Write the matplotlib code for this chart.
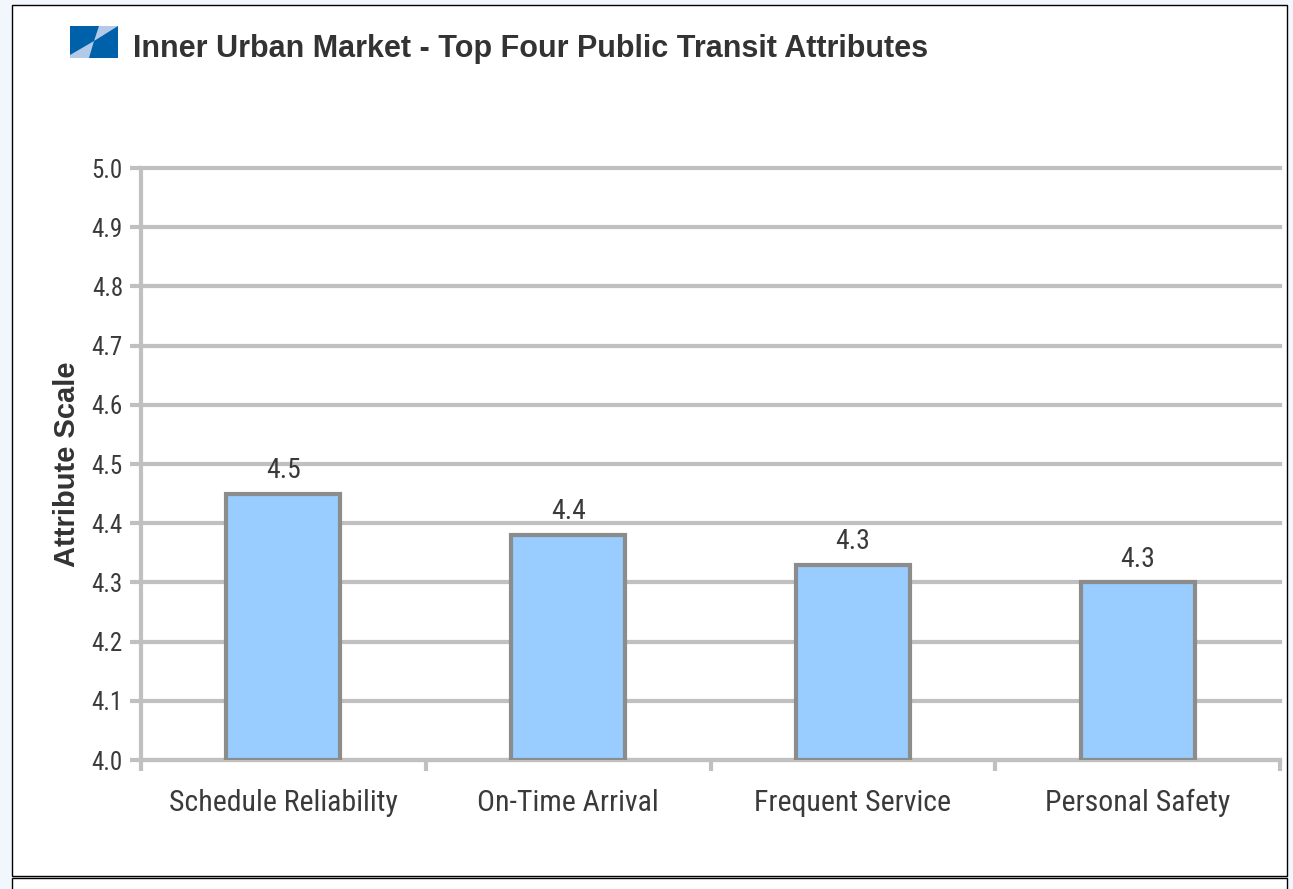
import numpy as np
import matplotlib.pyplot as plt
from matplotlib.patches import Rectangle, Polygon

# chart data
categories = ['Schedule Reliability', 'On-Time Arrival', 'Frequent Service', 'Personal Safety']
scores = [4.45, 4.38, 4.33, 4.30]
labels = ['4.5', '4.4', '4.3', '4.3']
y_ticks = [4.0, 4.1, 4.2, 4.3, 4.4, 4.5, 4.6, 4.7, 4.8, 4.9, 5.0]

W, H = 1293, 889
narrow = ['Liberation Sans Narrow', 'Roboto Condensed', 'Roboto', 'DejaVu Sans']
grid_col = '#c0c0c0'
text_col = '#3a3a3a'

fig = plt.figure(figsize=(W / 100, H / 100), dpi=100)
fig.patch.set_facecolor('#f2f6fd')

# white panel with black frame, plus the start of the next panel below
def px_rect(x0, y0, x1, y1, **kw):
    return Rectangle((x0 / W, 1 - y1 / H), (x1 - x0) / W, (y1 - y0) / H,
                     transform=fig.transFigure, **kw)

fig.patches.append(px_rect(12, 5, 1287, 876, facecolor='white', edgecolor='black',
                           linewidth=1.0, zorder=-5))
fig.patches.append(px_rect(12, 878, 1287, 900, facecolor='white', edgecolor='black',
                           linewidth=1.0, zorder=-5))

# small logo next to title
def px_poly(pts, **kw):
    return Polygon([(x / W, 1 - y / H) for x, y in pts], closed=True,
                   transform=fig.transFigure, **kw)

fig.patches.append(px_rect(70, 26, 118, 58, facecolor='#0061ab', edgecolor='none'))
fig.patches.append(px_poly([(99, 26), (118, 26), (94, 41)], facecolor='#b3c9e8', edgecolor='none'))
fig.patches.append(px_poly([(70, 55), (70, 58), (89, 58), (94, 41)], facecolor='#b3c9e8', edgecolor='none'))

fig.text(133 / W, 1 - 49 / H, 'Inner Urban Market - Top Four Public Transit Attributes',
         fontsize=22, fontweight='bold', color='#333333', family='Liberation Sans',
         va='center', ha='left')

ax = fig.add_axes([141 / W, 1 - 760 / H, (1280 - 141) / W, (760 - 168) / H])
ax.set_facecolor('white')

x = np.arange(len(categories))
ax.bar(x, [s - 4.0 for s in scores], bottom=4.0, width=0.4, color='#99ccff',
       edgecolor='#8c8c8c', linewidth=3, zorder=3)

for xi, s, lab in zip(x, scores, labels):
    ax.annotate(lab, (xi, s), xytext=(0, 7), textcoords='offset points',
                ha='center', va='bottom', fontsize=20, color=text_col, family=narrow)

ax.set_xlim(-0.5, 3.5)
ax.set_ylim(4.0, 5.0)
ax.set_yticks(y_ticks)
ax.set_yticklabels([f'{t:.1f}' for t in y_ticks], fontsize=18, color=text_col, family=narrow)
ax.yaxis.grid(True, color=grid_col, linewidth=3, zorder=0)
for gl in ax.get_ygridlines():
    gl.set_clip_on(False)
ax.set_axisbelow(True)

ax.set_xticks(np.arange(-0.5, 4.0, 1.0))
ax.set_xticklabels([])
ax.set_xticks(x, minor=True)
ax.set_xticklabels(categories, minor=True, fontsize=21.5, color=text_col, family=narrow)
ax.tick_params(axis='x', which='minor', length=0, pad=21)
ax.tick_params(axis='x', which='major', length=8, width=3, color=grid_col)
ax.tick_params(axis='y', length=8, width=3, color=grid_col, pad=5)

for side in ['top', 'right']:
    ax.spines[side].set_visible(False)
for side in ['left', 'bottom']:
    ax.spines[side].set_color(grid_col)
    ax.spines[side].set_linewidth(3)

ax.set_ylabel('Attribute Scale', fontsize=21, fontweight='bold', color='#333333',
              family='Liberation Sans', labelpad=8)

fig.savefig('out.png', dpi=100, facecolor=fig.get_facecolor())
